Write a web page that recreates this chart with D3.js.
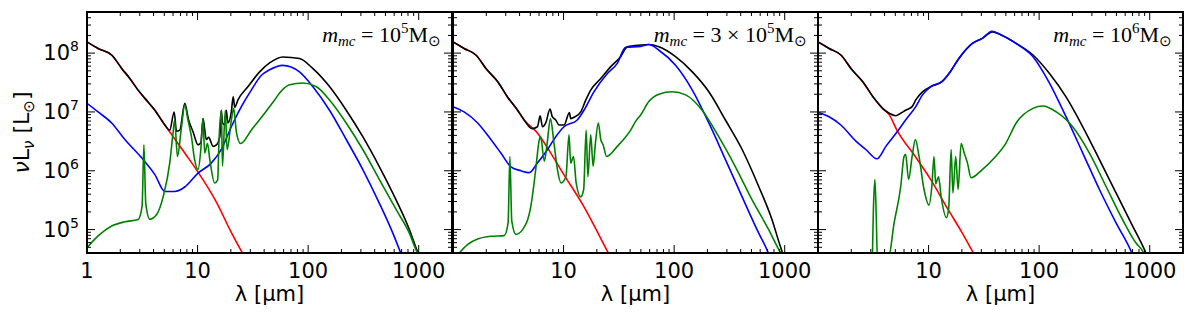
<!DOCTYPE html>
<html><head><meta charset="utf-8">
<script src="https://cdn.jsdelivr.net/npm/d3@7"></script>
<style>body{margin:0;background:#fff}svg{display:block}</style>
</head><body><svg id="c" width="1200" height="314"></svg>
<script>
// ---- data ----
const xTicks = [1, 10, 100, 1000];
const yTicks = [1e5, 1e6, 1e7, 1e8];
const xDomain = [1, 2000];
const yDomain = [4e4, 5e8];
const massPrefix = ["", "3 \u00d7 ", ""];
const massExp = ["5", "5", "6"];

// panel 1 (m = 1e5)
const p1Total = [[1,1.55e8],[1.26,1.2e8],[1.67,9.3e7],[2.06,5.5e7],[2.44,3.7e7],[2.9,2.35e7],[3.34,1.7e7],[4.11,1.07e7],[5.06,6.0e6],[5.6,4.9e6],[6.14,1.0e7],[6.45,4.7e6],[6.9,4.9e6],[7.66,1.4e7],[8.3,7.3e6],[9.1,4.6e6],[10.1,2.76e6],[10.7,3.0e6],[11.2,7.7e6],[12.0,3.4e6],[12.6,3.7e6],[13.8,2.6e6],[14.8,2.75e6],[15.9,3.8e6],[16.4,1.07e7],[16.8,6.5e6],[17.6,6.0e6],[18.2,1.07e7],[18.8,6.5e6],[20.2,1.0e7],[21,1.8e7],[21.7,1.2e7],[23.2,1.6e7],[28.6,2.7e7],[36.4,4.8e7],[44.8,6.8e7],[59,8.6e7],[83.6,8.1e7],[110,5.5e7],[156,2.7e7],[221,1.07e7],[312,3.8e6],[441,1.17e6],[624,3.2e5],[823,1.0e5],[946,4.9e4],[1000,3.8e4]];
const p1Stars = [[1,1.55e8],[1.26,1.2e8],[1.67,9.3e7],[2.06,5.5e7],[2.44,3.7e7],[2.9,2.35e7],[3.34,1.7e7],[4.11,1.07e7],[5.06,6.0e6],[6.2,3.5e6],[7.66,2.0e6],[10.1,9.5e5],[15,2.8e5],[19.8,9.6e4],[24.9,4.3e4],[27,3.3e4]];
const p1Cloud = [[1,1.4e7],[1.26,1.0e7],[1.67,6.5e6],[2.2,3.4e6],[3.12,1.66e6],[4.11,8.6e5],[5.06,4.45e5],[6.2,4.45e5],[7.66,5.3e5],[10.1,9.1e5],[13.3,1.35e6],[16.4,2.3e6],[20.2,5.6e6],[24.9,1.23e7],[30.6,2.35e7],[37.8,4.2e7],[44.8,5.2e7],[59,6.2e7],[83.6,4.8e7],[110,2.7e7],[156,1.07e7],[221,3.4e6],[312,1.05e6],[441,2.8e5],[582,8.8e4],[668,4.6e4],[720,3.2e4]];
const p1Diffuse = [[1,4.9e4],[1.26,7.8e4],[1.67,1.15e5],[2.2,1.36e5],[2.9,1.48e5],[3.15,2.5e5],[3.27,2.76e6],[3.4,2.8e5],[3.7,1.5e5],[4.26,1.8e5],[4.88,3.6e5],[5.6,1.35e6],[6.0,4.4e6],[6.2,7.2e6],[6.58,1.75e6],[7.1,4.9e6],[7.66,1.3e7],[8.2,7.2e6],[8.8,3.8e6],[9.4,1.55e6],[10.1,1.05e6],[10.7,2.3e6],[11.2,7.7e6],[11.6,2.0e6],[12.3,2.9e6],[12.9,1.55e6],[14.3,6.2e5],[15.2,7e5],[15.6,3e6],[16.4,1.07e7],[16.8,1.2e6],[17.8,1.07e7],[18.5,2.3e6],[20.2,7.2e6],[21.2,1.15e7],[22.5,4.4e6],[24.5,2.9e6],[30.6,4.9e6],[40.4,9.5e6],[44.8,1.23e7],[49.8,1.6e7],[55.2,2.1e7],[68,2.9e7],[89.6,3.1e7],[118,2.7e7],[156,1.6e7],[221,6.5e6],[312,2.3e6],[441,7.1e5],[624,2.2e5],[823,8.7e4],[946,4.5e4],[1000,3.6e4]];

// panel 2 (m = 3e5)
const p2Total = [[1,1.55e8],[1.26,1.2e8],[1.61,9.3e7],[2.03,5.2e7],[2.53,3.3e7],[3.11,1.8e7],[3.84,1.07e7],[4.4,7.3e6],[5.2,5.2e6],[5.8,5.6e6],[6.14,8.6e6],[6.45,5.6e6],[6.9,6.5e6],[7.55,1.12e7],[7.9,8.3e6],[8.5,7.3e6],[9.1,6e6],[10.1,6e6],[11.3,9.8e6],[11.6,7.7e6],[12.7,8.3e6],[14.3,1.0e7],[15.9,1.6e7],[17.6,2.35e7],[21.7,3.7e7],[26.7,5.9e7],[32.8,8.7e7],[37.8,1.28e8],[49.8,1.37e8],[59,1.4e8],[72.8,1.28e8],[103,8.7e7],[146,4.8e7],[206,2.2e7],[291,7.3e6],[412,2.3e6],[582,5.4e5],[768,1.47e5],[912,5.2e4],[980,3.5e4]];
const p2Stars = [[1,1.55e8],[1.26,1.2e8],[1.61,9.3e7],[2.03,5.2e7],[2.53,3.3e7],[3.11,1.8e7],[3.84,1.07e7],[4.4,7.3e6],[5.8,4.4e6],[7.66,2.0e6],[10.1,8.5e5],[15,2.6e5],[20,9.5e4],[24.9,4.3e4],[27,3.3e4]];
const p2Cloud = [[1,1.23e7],[1.26,1.0e7],[1.67,6.5e6],[2.2,3.4e6],[2.71,2.0e6],[3.34,1.17e6],[4.11,1.0e6],[4.88,9.3e5],[5.8,1.35e6],[7.16,2.3e6],[8.5,3.8e6],[10.1,5.6e6],[13.3,7.3e6],[15.3,1.07e7],[18.8,2.2e7],[24.9,4.5e7],[30.6,6.7e7],[36.4,1.25e8],[49.8,1.3e8],[59,1.4e8],[72.8,1.12e8],[103,6.2e7],[146,2.35e7],[206,6.5e6],[291,1.55e6],[412,3.6e5],[582,8.7e4],[692,4.5e4],[740,3.3e4]];
const p2Diffuse = [[1.14,4e4],[1.36,5.6e4],[1.67,6.9e4],[2.2,7.7e4],[2.9,7.9e4],[3.15,1.3e5],[3.27,1.75e6],[3.4,1.4e5],[3.7,8.3e4],[4.26,1e5],[5.06,2.5e5],[5.6,1.05e6],[6.0,3.2e6],[6.2,3.8e6],[6.7,1.45e6],[7.1,2.9e6],[7.6,7.7e6],[8.2,2.9e6],[8.8,1.05e6],[9.5,6.2e5],[10.5,7.9e5],[11.2,4.1e6],[11.6,1.35e6],[12.3,1.75e6],[13,6.2e5],[14.3,3.6e5],[15.2,4.8e5],[16.0,4.9e6],[16.6,7.9e5],[17.6,4.1e6],[18.5,1.2e6],[19.4,2.9e6],[20.6,6.5e6],[21.7,3.4e6],[22.8,2.75e6],[24.5,1.75e6],[30.6,2.6e6],[40.4,4.9e6],[44.8,6.9e6],[49.8,8.9e6],[59,1.5e7],[72.8,2.0e7],[96,2.2e7],[127,1.95e7],[179,1.07e7],[253,3.8e6],[358,1.17e6],[507,3.2e5],[716,1e5],[882,4.6e4],[960,3.4e4]];

// panel 3 (m = 1e6)
const p3Total = [[1,1.55e8],[1.26,1.2e8],[1.61,9.3e7],[2.03,5.2e7],[2.53,3.3e7],[3.22,1.7e7],[3.84,1.15e7],[4.4,9.5e6],[5.06,8.6e6],[5.6,9.5e6],[6.2,1.07e7],[7.1,1.23e7],[7.66,1.6e7],[8.8,2.2e7],[10.5,2.7e7],[13.3,3.3e7],[15.3,4.5e7],[18.8,8.1e7],[24.9,1.46e8],[30.6,1.78e8],[37.8,2.3e8],[44,2.1e8],[62,1.46e8],[88,9.3e7],[124,4.5e7],[175,1.8e7],[248,5.6e6],[351,1.55e6],[496,4.2e5],[701,1.15e5],[894,4.6e4],[960,3.4e4]];
const p3Stars = [[1,1.55e8],[1.26,1.2e8],[1.61,9.3e7],[2.03,5.2e7],[2.53,3.3e7],[3.22,1.7e7],[3.84,1.15e7],[4.4,9.0e6],[5.2,4.8e6],[7.66,1.7e6],[10.5,7.0e5],[15,2.2e5],[20,9.0e4],[24.9,4.3e4],[27,3.3e4]];
const p3Cloud = [[1,9.8e6],[1.26,8.3e6],[1.61,6e6],[2.2,3.2e6],[2.71,2.3e6],[3.41,1.6e6],[4.11,2.6e6],[5.2,4.6e6],[6.2,7.3e6],[7.66,1.23e7],[8.8,1.95e7],[10.5,2.7e7],[13.3,3.3e7],[15.3,4.5e7],[18.8,8.1e7],[24.9,1.46e8],[30.6,1.78e8],[37.5,2.36e8],[44,2.1e8],[62,1.46e8],[88,8.7e7],[124,3.1e7],[175,8.3e6],[248,2.0e6],[351,4.8e5],[496,1.3e5],[678,4.3e4],[720,3.3e4]];
const p3Diffuse = [[3.1,3e4],[3.17,2.2e5],[3.27,7.1e5],[3.36,1.8e5],[3.45,3e4],[4.3,3e4],[4.88,1.3e5],[5.6,5.4e5],[6.0,1.75e6],[6.2,1.9e6],[6.6,7.1e5],[7.1,1.75e6],[7.6,3.4e6],[8.2,1.75e6],[9.1,4.8e5],[10.1,2.6e5],[10.7,5.4e5],[11.2,1.75e6],[11.6,6e5],[12.3,7.9e5],[13,3.6e5],[14.5,1.6e5],[15.2,2.3e5],[16.0,2.3e6],[16.6,4.2e5],[17.6,1.75e6],[18.5,4.8e5],[19.7,2.9e6],[21,2e6],[22.5,1.35e6],[24.2,7.6e5],[30.6,1.05e6],[40.4,1.75e6],[49.8,2.9e6],[62,6.5e6],[88,1.15e7],[108,1.26e7],[143,1.0e7],[201,5.6e6],[285,2.0e6],[403,5.4e5],[569,1.47e5],[752,5.9e4],[863,4.3e4],[920,3.3e4]];

const panelSeries = [
  [p1Stars, p1Total, p1Cloud, p1Diffuse],
  [p2Stars, p2Total, p2Cloud, p2Diffuse],
  [p3Stars, p3Total, p3Cloud, p3Diffuse]
];
const seriesColors = ["#ff0000", "#000000", "#0000ff", "#008000"];

// ---- layout ----
const svg = d3.select("#c");
const panelLeft = [87, 453, 818];
const panelW = 365, yTop = 12, yBot = 253;
const font = "DejaVu Sans, sans-serif";
const serif = "Liberation Serif, Times New Roman, serif";

const y = d3.scaleLog().domain(yDomain).range([yBot, yTop]);

panelLeft.forEach((x0, pi) => {
  const x = d3.scaleLog().domain(xDomain).range([x0, x0 + panelW]);
  const g = svg.append("g");
  const cid = "clip" + pi;
  svg.append("clipPath").attr("id", cid).append("rect")
    .attr("x", x0).attr("y", yTop).attr("width", panelW).attr("height", yBot - yTop);

  const line = d3.line().x(d => x(d[0])).y(d => y(d[1])).curve(d3.curveMonotoneX);
  const lg = g.append("g").attr("clip-path", `url(#${cid})`);
  panelSeries[pi].forEach((s, si) => {
    lg.append("path").datum(s).attr("d", line).attr("fill", "none")
      .attr("stroke", seriesColors[si]).attr("stroke-width", 1.6).attr("stroke-linejoin", "round");
  });

  // ticks (inward, all four sides)
  const xMinor = [];
  for (let e = 0; e <= 3; e++) for (let m = 2; m <= 9; m++) { const v = m * 10 ** e; if (v <= xDomain[1]) xMinor.push(v); }
  const yMinor = [];
  for (let e = 4; e <= 8; e++) for (let m = 2; m <= 9; m++) { const v = m * 10 ** e; if (v >= yDomain[0] && v <= yDomain[1]) yMinor.push(v); }
  const tk = g.append("g").attr("stroke", "#000").attr("stroke-width", 1);
  const addX = (vals, len) => vals.forEach(v => {
    const px = x(v);
    tk.append("line").attr("x1", px).attr("x2", px).attr("y1", yBot).attr("y2", yBot - len);
    tk.append("line").attr("x1", px).attr("x2", px).attr("y1", yTop).attr("y2", yTop + len);
  });
  const addY = (vals, len) => vals.forEach(v => {
    const py = y(v);
    tk.append("line").attr("x1", x0).attr("x2", x0 + len).attr("y1", py).attr("y2", py);
    tk.append("line").attr("x1", x0 + panelW).attr("x2", x0 + panelW - len).attr("y1", py).attr("y2", py);
  });
  addX(xTicks, 8); addX(xMinor, 4);
  addY(yTicks, 8); addY(yMinor, 4);

  // frame
  g.append("rect").attr("x", x0).attr("y", yTop).attr("width", panelW).attr("height", yBot - yTop)
    .attr("fill", "none").attr("stroke", "#000").attr("stroke-width", 2);

  // x tick labels
  xTicks.forEach(v => {
    if (pi > 0 && v === 1) return;
    g.append("text").attr("x", x(v)).attr("y", 278).attr("text-anchor", "middle")
      .attr("font-family", font).attr("font-size", 21).text(v);
  });
  // x label
  g.append("text").attr("x", x0 + panelW / 2).attr("y", 301).attr("text-anchor", "middle")
    .attr("font-family", font).attr("font-size", 21).text("\u03bb [\u03bcm]");

  // panel title
  const t = g.append("text").attr("x", x0 + panelW - 11).attr("y", 42).attr("text-anchor", "end")
    .attr("font-family", serif).attr("font-size", 22);
  t.append("tspan").attr("font-style", "italic").text("m");
  t.append("tspan").attr("font-style", "italic").attr("font-size", 15).attr("dy", 4).text("mc");
  t.append("tspan").attr("dy", -4).text(" = " + massPrefix[pi] + "10");
  t.append("tspan").attr("font-size", 15).attr("dy", -9).text(massExp[pi]);
  t.append("tspan").attr("dy", 9).text("M");
  t.append("tspan").attr("font-size", 15).attr("dy", 4).text("\u2299");
});

// y tick labels (panel 1 only)
const yExp = ["5", "6", "7", "8"];
yTicks.forEach((v, i) => {
  const t = svg.append("text").attr("x", 79).attr("y", y(v) + 7).attr("text-anchor", "end")
    .attr("font-family", font).attr("font-size", 21);
  t.append("tspan").text("10");
  t.append("tspan").attr("font-size", 14).attr("dy", -9).text(yExp[i]);
});

// y label
const yl = svg.append("text").attr("transform", `translate(29,${(yTop + yBot) / 2}) rotate(-90)`)
  .attr("text-anchor", "middle").attr("font-family", font).attr("font-size", 22);
yl.append("tspan").attr("font-style", "italic").text("\u03bd");
yl.append("tspan").text("L");
yl.append("tspan").attr("font-size", 15).attr("dy", 5).attr("font-style", "italic").text("\u03bd");
yl.append("tspan").attr("dy", -5).text(" [L");
yl.append("tspan").attr("font-size", 15).attr("dy", 5).text("\u2299");
yl.append("tspan").attr("dy", -5).text("]");
</script></body></html>
